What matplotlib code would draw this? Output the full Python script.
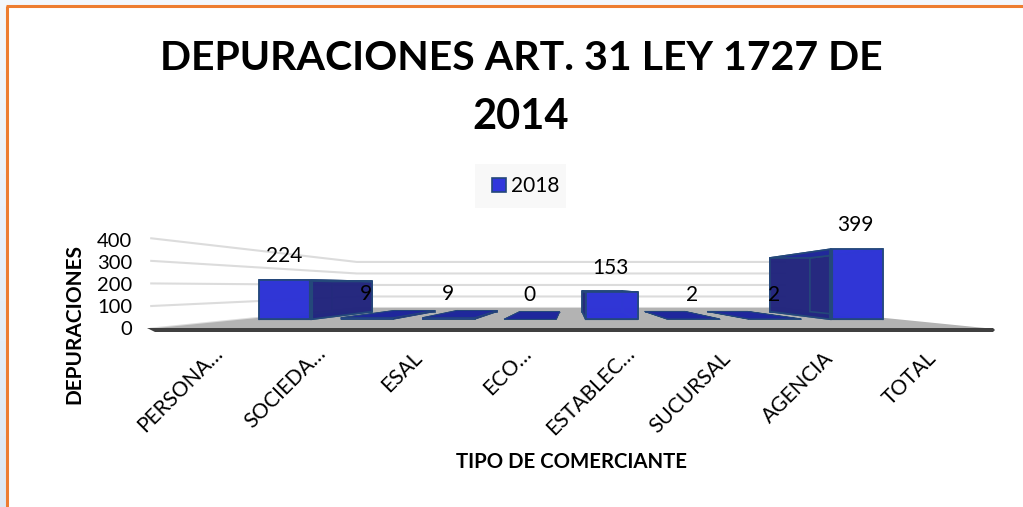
import numpy as np
import matplotlib
matplotlib.use('Agg')
import matplotlib.pyplot as plt
from matplotlib.patches import Polygon, Patch, Rectangle

categories = ['PERSONA…', 'SOCIEDA…', 'ESAL', 'ECO…', 'ESTABLEC…', 'SUCURSAL', 'AGENCIA', 'TOTAL']
values_2018 = [224, 9, 9, 0, 153, 2, 2, 399]
axis_ticks = [0, 100, 200, 300, 400]

BLUE = '#3036dc'
NAVY = '#24277e'
FLAT = '#1f279c'
EDGE = '#24487a'
ORANGE = '#ed7d31'

# perspective of the floor, in pixels of the 1023x507 picture
CX = 571
HORIZON = 286.6
FLOOR_H = 42.4
BAND = 106
PX_PER_UNIT = 0.228
BAR_W = 0.64
P_WALL = 0.505
P_BAR_FRONT = 0.77
P_BAR_BACK = 0.59


def project(u, v, p):
    # u = category position from the middle, v = value, p = depth scale
    return CX + p * u * BAND, HORIZON + p * FLOOR_H - p * PX_PER_UNIT * v


fig = plt.figure(figsize=(10.23, 5.07), dpi=100)
ax = fig.add_axes([0, 0, 1, 1])
ax.axis('off')
plt.rcParams['font.family'] = ['Lato', 'DejaVu Sans']

# page behind the chart and the orange frame
grad = np.linspace(0, 1, 64).reshape(-1, 1)
cmap = matplotlib.colors.LinearSegmentedColormap.from_list('page', ['#f3f7fc', '#dde8f3'])
ax.imshow(grad, extent=(0, 6, 507, 0), cmap=cmap, aspect='auto', zorder=0)
ax.add_patch(Rectangle((0, 0), 1023, 5, color='#f3f7fc', lw=0, zorder=0))
ax.set_xlim(0, 1023)
ax.set_ylim(507, 0)
ax.plot([7, 7], [507, 6], color=ORANGE, lw=2.2, zorder=1, solid_capstyle='butt')
ax.plot([6, 1023], [6, 6], color=ORANGE, lw=2.2, zorder=1, solid_capstyle='butt')

ax.text(521, 59, 'DEPURACIONES ART. 31 LEY 1727 DE', fontsize=29.5, fontweight='bold', ha='center', va='center')
ax.text(521, 117, '2014', fontsize=30, fontweight='bold', ha='center', va='center')

# walls: grid lines run down the left side, then along the back
half = len(categories) / 2
for t in axis_ticks:
    xs, ys = zip(project(-half, t, 0.99), project(-half, t, P_WALL), project(half, t, P_WALL))
    ax.plot(xs, ys, color='#dcdcdc', lw=1.5, zorder=2)
    ax.text(132, project(0, t, 0.975)[1] + 2, str(t), fontsize=14.5, ha='right', va='center', zorder=6)

# floor
floor = [project(-half, 0, 1), project(half, 0, 1), project(half, 0, P_WALL), project(-half, 0, P_WALL)]
ax.add_patch(Polygon(floor, closed=True, fc='#b3b3b3', ec='none', zorder=3))
x0, y0 = project(-half, 0, 1)
x1, y1 = project(half, 0, 1)
ax.add_patch(Polygon([(x0, y0 - 1), (x1 - 2, y1 - 1), (x1, y1 + 1), (x1 - 2, y1 + 3), (x0 + 8, y1 + 3)],
                     closed=True, fc='#404040', ec='none', zorder=3))

# bars
for i, val in enumerate(values_2018):
    u = i - (len(categories) - 1) / 2
    l, r = u - BAR_W / 2, u + BAR_W / 2
    fbl, fbr = project(l, 0, P_BAR_FRONT), project(r, 0, P_BAR_FRONT)
    ftl, ftr = project(l, val, P_BAR_FRONT), project(r, val, P_BAR_FRONT)
    bbl, bbr = project(l, 0, P_BAR_BACK), project(r, 0, P_BAR_BACK)
    btl, btr = project(l, val, P_BAR_BACK), project(r, val, P_BAR_BACK)
    faces = [
        ([fbl, fbr, bbr, bbl], FLAT, 1.0),
        ([bbl, bbr, btr, btl], NAVY, 0.9),
        ([fbl, bbl, btl, ftl], NAVY, 0.9),
        ([fbr, bbr, btr, ftr], NAVY, 0.9),
        ([ftl, ftr, btr, btl], FLAT, 0.9),
        ([fbl, fbr, ftr, ftl], BLUE, 0.93),
    ]
    edge_w = 1.2 if val > 20 else 0.6
    for pts, color, alpha in faces:
        ax.add_patch(Polygon(pts, closed=True, fc=color, alpha=alpha, ec='none', zorder=4))
        ax.add_patch(Polygon(pts, closed=True, fc='none', ec=EDGE, lw=edge_w, zorder=4))
    if abs(u) > 2 and val > 20:
        near = (fbr, ftr) if u < 0 else (fbl, ftl)
        ax.plot([near[0][0], near[1][0]], [near[0][1], near[1][1]], color=EDGE, lw=3, zorder=4,
                solid_capstyle='butt')
    lx, ly = project(u, val, P_BAR_FRONT)
    ax.text(lx - 1, ly - 24, str(val), fontsize=15, ha='center', va='center', zorder=6)

# category labels, the cut ones end a bit higher
for i, cat in enumerate(categories):
    u = i - (len(categories) - 1) / 2
    cut = cat.endswith('…')
    ax.text(570 + u * 103 + (3 if cut else -4), 343 if cut else 348, cat, fontsize=15, rotation=45,
            rotation_mode='anchor', ha='right', va='top', zorder=6)

ax.text(74, 324, 'DEPURACIONES', fontsize=15, fontweight='bold', rotation=90, ha='center', va='center')
ax.text(571, 462, 'TIPO DE COMERCIANTE', fontsize=14.7, fontweight='bold', ha='center', va='center')

# legend: the pale box sits a little left of its entry
ax.add_patch(Rectangle((475, 164), 91, 44, fc='#f8f8f8', ec='none', zorder=5))
leg = ax.legend(handles=[Patch(fc=BLUE, ec=EDGE, lw=1.2, label='2018')], loc='center',
                bbox_to_anchor=(525.5, 186), bbox_transform=ax.transData, frameon=False,
                fontsize=15, handlelength=0.67, handleheight=0.67, handletextpad=0.25,
                borderpad=0, borderaxespad=0)
leg.set_zorder(6)

plt.savefig('out.png', dpi=100)
